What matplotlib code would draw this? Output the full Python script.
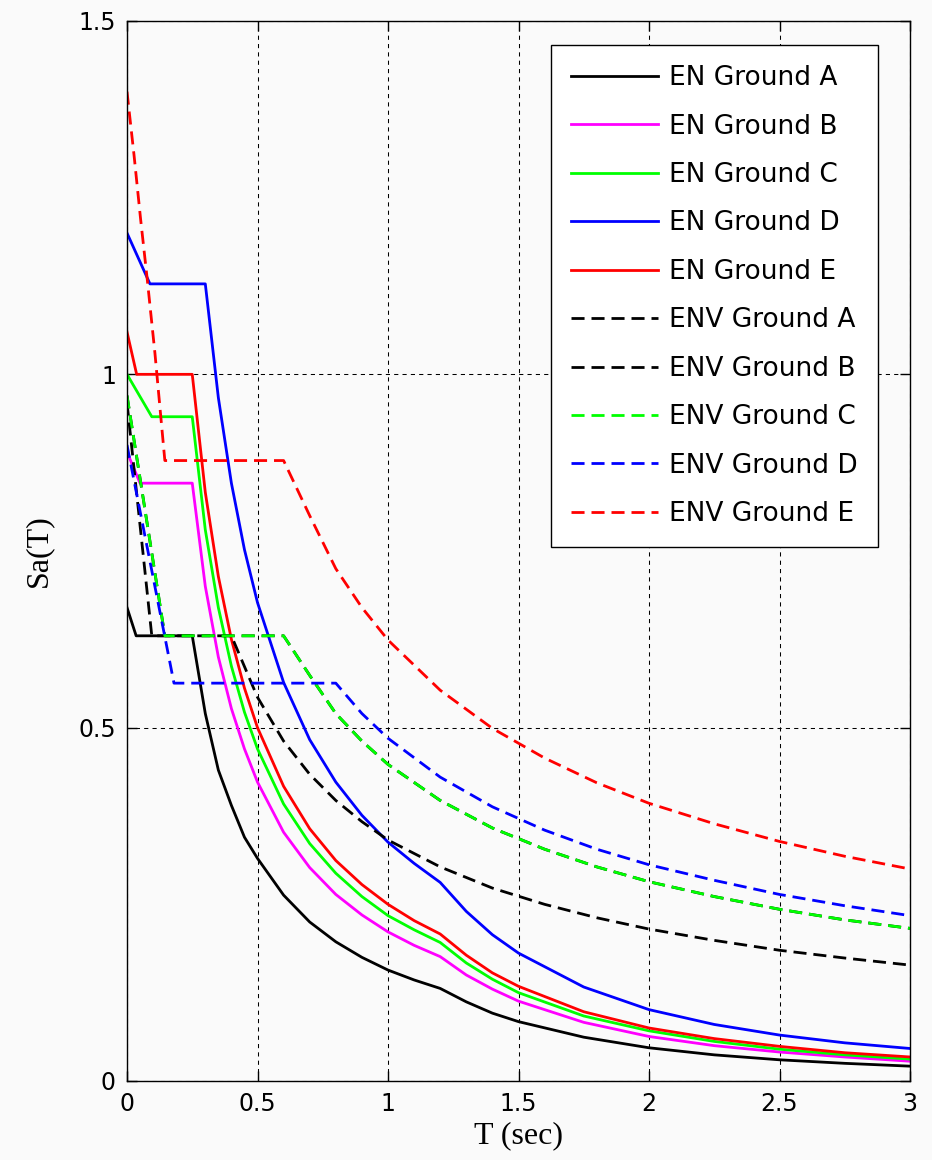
import numpy as np
import matplotlib
matplotlib.use('Agg')
import matplotlib.pyplot as plt

# lectures sur le graphe (T en s, Sa)
t_en_a = [0, 0.035, 0.25, 0.3, 0.35, 0.4, 0.45, 0.5, 0.6, 0.7, 0.8, 0.9, 1.0, 1.1, 1.2, 1.3, 1.4, 1.5, 1.75, 2.0, 2.25, 2.5, 2.75, 3.0]
sa_en_a = [0.67, 0.63, 0.63, 0.52, 0.44, 0.39, 0.345, 0.315, 0.263, 0.225, 0.197, 0.175, 0.157, 0.143, 0.131, 0.112, 0.096, 0.084, 0.062, 0.047, 0.037, 0.030, 0.025, 0.021]

t_en_b = [0, 0.05, 0.25, 0.3, 0.35, 0.4, 0.45, 0.5, 0.6, 0.7, 0.8, 0.9, 1.0, 1.1, 1.2, 1.3, 1.4, 1.5, 1.75, 2.0, 2.25, 2.5, 2.75, 3.0]
sa_en_b = [0.89, 0.846, 0.846, 0.70, 0.60, 0.527, 0.47, 0.423, 0.352, 0.302, 0.264, 0.235, 0.211, 0.192, 0.176, 0.150, 0.130, 0.113, 0.083, 0.063, 0.050, 0.041, 0.034, 0.028]

t_en_c = [0, 0.095, 0.25, 0.3, 0.35, 0.4, 0.45, 0.5, 0.6, 0.7, 0.8, 0.9, 1.0, 1.1, 1.2, 1.3, 1.4, 1.5, 1.75, 2.0, 2.25, 2.5, 2.75, 3.0]
sa_en_c = [1.0, 0.94, 0.94, 0.78, 0.67, 0.587, 0.522, 0.47, 0.392, 0.336, 0.294, 0.261, 0.234, 0.214, 0.196, 0.167, 0.144, 0.125, 0.092, 0.071, 0.056, 0.045, 0.037, 0.031]

t_en_d = [0, 0.088, 0.3, 0.35, 0.4, 0.45, 0.5, 0.6, 0.7, 0.8, 0.9, 1.0, 1.1, 1.2, 1.3, 1.4, 1.5, 1.75, 2.0, 2.25, 2.5, 2.75, 3.0]
sa_en_d = [1.20, 1.128, 1.128, 0.967, 0.846, 0.752, 0.677, 0.564, 0.483, 0.423, 0.376, 0.338, 0.308, 0.281, 0.240, 0.207, 0.181, 0.133, 0.101, 0.080, 0.065, 0.054, 0.046]

t_en_e = [0, 0.037, 0.25, 0.3, 0.35, 0.4, 0.45, 0.5, 0.6, 0.7, 0.8, 0.9, 1.0, 1.1, 1.2, 1.3, 1.4, 1.5, 1.75, 2.0, 2.25, 2.5, 2.75, 3.0]
sa_en_e = [1.06, 1.0, 1.0, 0.833, 0.714, 0.625, 0.556, 0.50, 0.417, 0.357, 0.312, 0.278, 0.250, 0.227, 0.208, 0.178, 0.153, 0.134, 0.098, 0.075, 0.060, 0.049, 0.040, 0.034]

t_env_a = [0, 0.095, 0.4, 0.5, 0.6, 0.7, 0.8, 0.9, 1.0, 1.2, 1.4, 1.6, 1.8, 2.0, 2.25, 2.5, 2.75, 3.0]
sa_env_a = [0.96, 0.63, 0.63, 0.543, 0.481, 0.434, 0.397, 0.367, 0.341, 0.303, 0.273, 0.250, 0.231, 0.215, 0.199, 0.185, 0.174, 0.164]

t_env_c = [0, 0.145, 0.6, 0.7, 0.8, 0.9, 1.0, 1.2, 1.4, 1.6, 1.8, 2.0, 2.25, 2.5, 2.75, 3.0]
sa_env_c = [0.97, 0.63, 0.63, 0.574, 0.520, 0.481, 0.448, 0.397, 0.358, 0.328, 0.303, 0.282, 0.261, 0.243, 0.228, 0.216]

# ENV B se confond avec ENV C sur la figure
t_env_b = t_env_c
sa_env_b = sa_env_c

t_env_d = [0, 0.18, 0.8, 0.9, 1.0, 1.2, 1.4, 1.6, 1.8, 2.0, 2.25, 2.5, 2.75, 3.0]
sa_env_d = [0.90, 0.563, 0.563, 0.520, 0.485, 0.430, 0.388, 0.355, 0.328, 0.306, 0.284, 0.264, 0.248, 0.234]

t_env_e = [0, 0.027, 0.052, 0.078, 0.107, 0.145, 0.6, 0.7, 0.8, 0.9, 1.0, 1.2, 1.4, 1.6, 1.8, 2.0, 2.25, 2.5, 2.75, 3.0]
sa_env_e = [1.40, 1.31, 1.22, 1.133, 1.03, 0.878, 0.878, 0.800, 0.725, 0.670, 0.624, 0.553, 0.499, 0.457, 0.422, 0.393, 0.364, 0.339, 0.318, 0.300]

series = [
    ('EN Ground A', t_en_a, sa_en_a, 'k', '-'),
    ('EN Ground B', t_en_b, sa_en_b, '#ff00ff', '-'),
    ('EN Ground C', t_en_c, sa_en_c, '#00ff00', '-'),
    ('EN Ground D', t_en_d, sa_en_d, '#0000ff', '-'),
    ('EN Ground E', t_en_e, sa_en_e, '#ff0000', '-'),
    ('ENV Ground A', t_env_a, sa_env_a, 'k', '--'),
    ('ENV Ground B', t_env_b, sa_env_b, 'k', '--'),
    ('ENV Ground C', t_env_c, sa_env_c, '#00ff00', '--'),
    ('ENV Ground D', t_env_d, sa_env_d, '#0000ff', '--'),
    ('ENV Ground E', t_env_e, sa_env_e, '#ff0000', '--'),
]

plt.rcParams['font.family'] = ['DejaVu Sans']
fig = plt.figure(figsize=(9.32, 11.6), dpi=100, facecolor='#fafafa')
ax = fig.add_axes([127/932, 1 - 1081/1160, (910-127)/932, (1081-21)/1160])
ax.set_facecolor('#fafafa')

for lab, t, sa, c, ls in series:
    if ls == '--':
        ax.plot(t, sa, color=c, lw=2.0, linestyle=(0, (4.7, 2.5)), label=lab)
    else:
        ax.plot(t, sa, color=c, lw=2.0, label=lab)

ax.set_xlim(0, 3)
ax.set_ylim(0, 1.5)
ax.set_xticks([0, 0.5, 1, 1.5, 2, 2.5, 3])
ax.set_xticklabels(['0', '0.5', '1', '1.5', '2', '2.5', '3'])
ax.set_yticks([0, 0.5, 1, 1.5])
ax.set_yticklabels(['0', '0.5', '1', '1.5'])
ax.grid(True, color='k', linestyle=(0, (4, 4)), linewidth=0.75)
ax.set_axisbelow(True)
ax.tick_params(direction='in', length=7, width=1, top=True, right=True, labelsize=17, pad=8)
for s in ax.spines.values():
    s.set_linewidth(1.0)

ax.set_xlabel('T (sec)', family='Liberation Serif', fontsize=23, labelpad=4)
ax.set_ylabel('Sa(T)', family='Liberation Serif', fontsize=23, labelpad=18)

leg = ax.legend(loc='upper right', bbox_to_anchor=(0.959, 0.977), borderaxespad=0,
                fontsize=19, handlelength=3.3, handletextpad=0.45, labelspacing=0.85,
                borderpad=0.75, fancybox=False, framealpha=1, edgecolor='k')
leg.get_frame().set_linewidth(1.0)

fig.savefig('out.png', dpi=100, facecolor=fig.get_facecolor())
